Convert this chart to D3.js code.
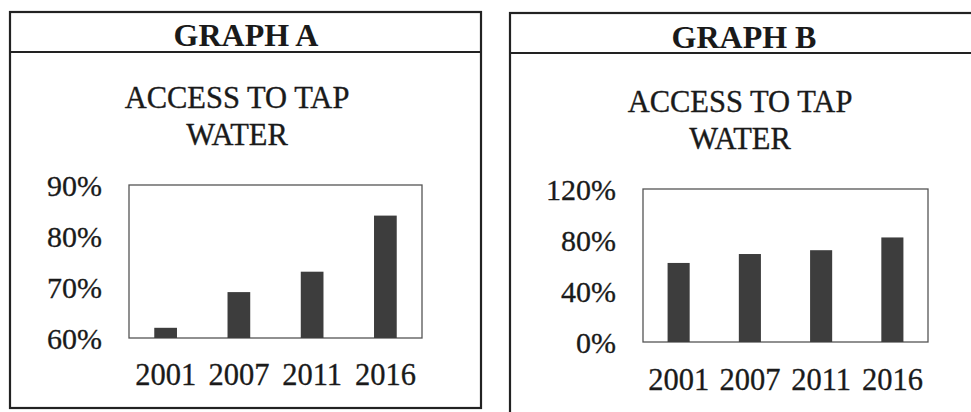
<!DOCTYPE html>
<html>
<head>
<meta charset="utf-8">
<script src="https://cdn.jsdelivr.net/npm/d3@7"></script>
<style>
  html, body { margin: 0; padding: 0; background: #fff; }
  svg { display: block; }
  text { font-family: "Liberation Serif", "Times New Roman", Times, "DejaVu Serif", serif; fill: #1a1a1a; }
</style>
</head>
<body>
<div id="chart"></div>
<script>
// data
var years = ['2001', '2007', '2011', '2016'];
var accessA = [62, 69, 73, 84];
var accessB = [62, 69, 72, 82];
var ticksA = [60, 70, 80, 90];
var ticksB = [0, 40, 80, 120];
var headerA = 'GRAPH A';
var headerB = 'GRAPH B';
var titleLines = ['ACCESS TO TAP', 'WATER'];

var width = 971, height = 412;
var serif = '"Liberation Serif", "Times New Roman", Times, "DejaVu Serif", serif';
var svg = d3.select('#chart').append('svg')
    .attr('width', width)
    .attr('height', height);

function drawGraph(cfg) {
    var g = svg.append('g');

    // outer frame + header strip
    g.append('rect')
        .attr('x', cfg.box.x).attr('y', cfg.box.y)
        .attr('width', cfg.box.w).attr('height', cfg.box.h)
        .attr('fill', 'none').attr('stroke', '#222').attr('stroke-width', 2.2);
    g.append('line')
        .attr('x1', cfg.box.x).attr('x2', cfg.box.x + cfg.box.w)
        .attr('y1', cfg.headerLine).attr('y2', cfg.headerLine)
        .attr('stroke', '#222').attr('stroke-width', 2.2);
    g.append('text')
        .attr('x', cfg.headerX).attr('y', cfg.headerY)
        .attr('text-anchor', 'middle')
        .style('font-size', '32px').style('font-weight', 'bold')
        .text(cfg.header);

    // chart title
    titleLines.forEach(function (t, i) {
        g.append('text')
            .attr('x', cfg.titleX).attr('y', cfg.titleY + i * 37)
            .attr('text-anchor', 'middle')
            .style('font-size', '30.5px')
            .attr('stroke', '#1a1a1a').attr('stroke-width', 0.35)
            .text(t);
    });

    var p = cfg.plot;
    var xScale = d3.scaleBand().domain(years)
        .range([p.left, p.right])
        .paddingInner(0.69).paddingOuter(0.345);
    var yScale = d3.scaleLinear().domain(cfg.yDomain).range([p.bottom, p.top]);

    // plot frame
    g.append('rect')
        .attr('x', p.left).attr('y', p.top)
        .attr('width', p.right - p.left).attr('height', p.bottom - p.top)
        .attr('fill', 'none').attr('stroke', '#555').attr('stroke-width', 1.3);

    // bars
    g.selectAll('.bar').data(cfg.values).enter().append('rect')
        .attr('class', 'bar')
        .attr('x', function (d, i) { return xScale(years[i]); })
        .attr('width', xScale.bandwidth())
        .attr('y', function (d) { return yScale(d); })
        .attr('height', function (d) { return yScale(cfg.yDomain[0]) - yScale(d); })
        .attr('fill', '#3d3d3d');

    // y axis labels
    var yAxis = g.append('g')
        .attr('transform', 'translate(' + (p.left - 27) + ',1)')
        .call(d3.axisLeft(yScale).tickValues(cfg.ticks)
            .tickSize(0).tickPadding(0)
            .tickFormat(function (d) { return d + '%'; }));
    yAxis.select('.domain').remove();
    yAxis.selectAll('text').attr('fill', '#1a1a1a')
        .attr('stroke', '#1a1a1a').attr('stroke-width', 0.3)
        .style('font-family', serif)
        .style('font-size', '30px');

    // x axis labels
    var xAxis = g.append('g')
        .attr('transform', 'translate(0,' + cfg.xLabelY + ')')
        .call(d3.axisBottom(xScale).tickSize(0).tickPadding(0));
    xAxis.select('.domain').remove();
    xAxis.selectAll('text').attr('fill', '#1a1a1a')
        .attr('stroke', '#1a1a1a').attr('stroke-width', 0.3)
        .attr('dy', 0).attr('y', 0)
        .style('font-family', serif)
        .style('font-size', '30.5px');
}

drawGraph({
    box: { x: 10, y: 12, w: 471, h: 396 },
    headerLine: 52, headerX: 246, headerY: 46, header: headerA,
    titleX: 237, titleY: 108,
    plot: { left: 129, right: 422, top: 185, bottom: 338 },
    yDomain: [60, 90], ticks: ticksA, values: accessA,
    xLabelY: 385
});

drawGraph({
    box: { x: 510, y: 13, w: 480, h: 420 },
    headerLine: 53, headerX: 744, headerY: 48, header: headerB,
    titleX: 740, titleY: 112,
    plot: { left: 643, right: 928, top: 189, bottom: 342 },
    yDomain: [0, 120], ticks: ticksB, values: accessB,
    xLabelY: 390
});
</script>
</body>
</html>
